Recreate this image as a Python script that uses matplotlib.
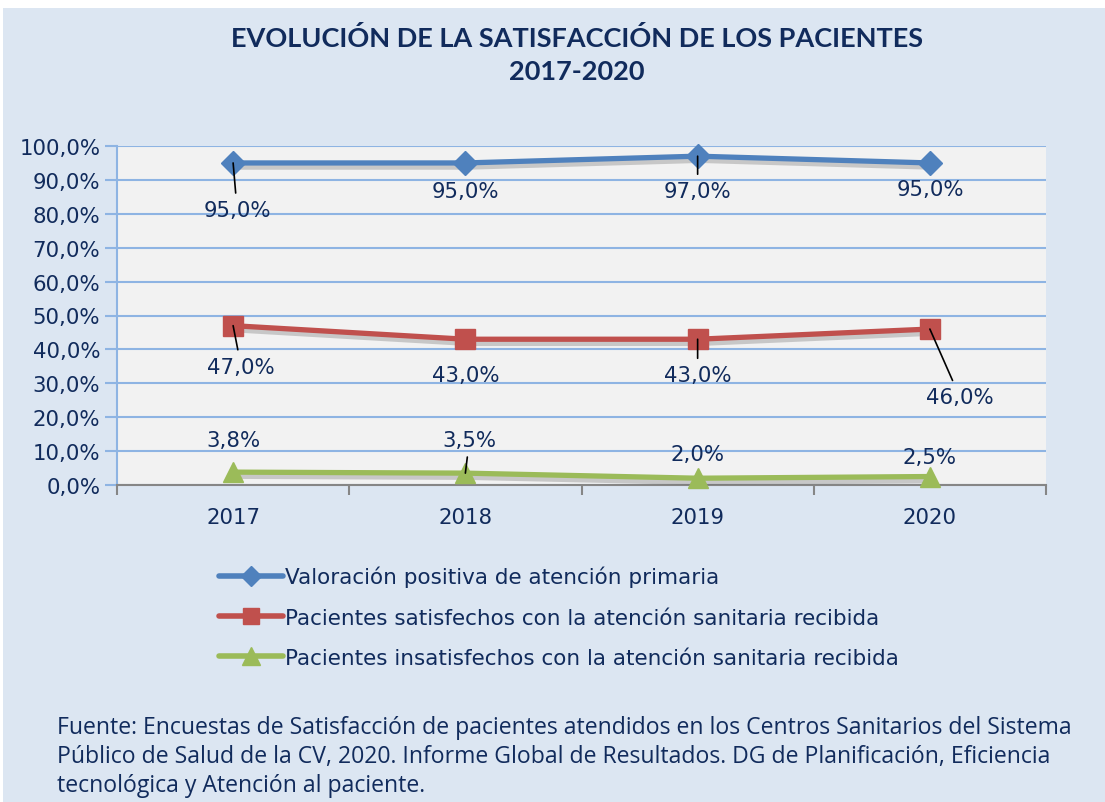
import matplotlib
matplotlib.use("Agg")
import matplotlib.pyplot as plt
import matplotlib.patheffects as pe
from matplotlib.patches import Rectangle
from matplotlib.lines import Line2D

YEARS = ["2017", "2018", "2019", "2020"]
VALORACION = [95.0, 95.0, 97.0, 95.0]
SATISFECHOS = [47.0, 43.0, 43.0, 46.0]
INSATISFECHOS = [3.8, 3.5, 2.0, 2.5]
SERIES_NAMES = [
    "Valoración positiva de atención primaria",
    "Pacientes satisfechos con la atención sanitaria recibida",
    "Pacientes insatisfechos con la atención sanitaria recibida",
]
TITLE = "EVOLUCIÓN DE LA SATISFACCIÓN DE LOS PACIENTES\n2017-2020"
SOURCE = ("Fuente: Encuestas de Satisfacción de pacientes atendidos en los Centros Sanitarios del Sistema\n"
          "Público de Salud de la CV, 2020. Informe Global de Resultados. DG de Planificación, Eficiencia\n"
          "tecnológica y Atención al paciente.")

BG = "#DCE6F2"
PLOT_BG = "#F2F2F2"
GRID = "#8EB4E3"
NAVY = "#112B5C"
COLORS = ["#4F81BD", "#C0504D", "#9BBB59"]
MARKERS = ["D", "s", "^"]
MSIZES = [12, 14, 15]
FS = 15.3

W, H = 1105, 803
fig = plt.figure(figsize=(W / 100, H / 100), dpi=100)
fig.patch.set_facecolor("white")
fig.patches.append(Rectangle((3 / W, 0), 1 - 3 / W, 1 - 9 / H, transform=fig.transFigure,
                             facecolor=BG, edgecolor="none", zorder=-10))

ax = fig.add_axes([117 / W, 1 - 486 / H, (1046 - 117) / W, (486 - 147) / H])
ax.set_facecolor(PLOT_BG)
x = list(range(len(YEARS)))
ax.set_xlim(-0.5, len(YEARS) - 0.5)
ax.set_ylim(0, 100)

ax.set_yticks(range(0, 101, 10))
ax.set_yticklabels([f"{v:.1f}%".replace(".", ",") for v in range(0, 101, 10)])
ax.grid(axis="y", color=GRID, linewidth=1.5)
ax.set_axisbelow(True)
ax.set_xticks(x)
ax.set_xticklabels(YEARS)
ax.set_xticks([i - 0.5 for i in range(len(YEARS) + 1)], minor=True)
ax.tick_params(axis="x", which="major", length=0, pad=16, labelsize=FS, labelcolor=NAVY)
ax.tick_params(axis="x", which="minor", length=7, width=1.5, color="#868686", direction="out")
ax.tick_params(axis="y", length=9, width=1.5, color=GRID, labelsize=FS, labelcolor=NAVY, pad=3)
for s in ["top", "right"]:
    ax.spines[s].set_visible(False)
ax.spines["left"].set_color(GRID)
ax.spines["left"].set_linewidth(1.5)
ax.spines["bottom"].set_color("#868686")
ax.spines["bottom"].set_linewidth(1.5)

shadow = [pe.SimpleLineShadow(offset=(1.5, -3), shadow_color="#666666", alpha=0.3), pe.Normal()]
all_series = [VALORACION, SATISFECHOS, INSATISFECHOS]
for vals, col, mk, ms in zip(all_series, COLORS, MARKERS, MSIZES):
    ax.plot(x, vals, color=col, lw=3.8, solid_capstyle="round", path_effects=shadow,
            zorder=3, clip_on=False)
    ax.plot(x, vals, ls="none", marker=mk, markersize=ms, color=col, markeredgecolor=col,
            zorder=4, clip_on=False)

# label offsets in pixels (dx, dy) and whether a leader line is drawn
label_offsets = [
    [(4, -47, True), (0, -28, False), (0, -35, True), (0, -26, False)],
    [(8, -41, True), (0, -36, False), (0, -36, True), (30, -68, True)],
    [(0, 32, False), (4, 33, True), (0, 24, False), (0, 20, False)],
]
for vals, offs in zip(all_series, label_offsets):
    for xi, v, (dx, dy, lead) in zip(x, vals, offs):
        txt = f"{v:.1f}%".replace(".", ",")
        props = dict(arrowstyle="-", color="black", lw=1.2, shrinkA=3, shrinkB=0) if lead else None
        ax.annotate(txt, (xi, v), xytext=(dx, dy), textcoords="offset pixels",
                    ha="center", va="center", fontsize=FS, color=NAVY,
                    arrowprops=props, zorder=5)

fig.text(0.522, 1 - 26 / H, TITLE, ha="center", va="top", fontsize=19.5, fontweight="bold",
         family="Lato", color=NAVY, linespacing=1.45)

handles = [Line2D([], [], color=c, lw=4, marker=m, markersize=ms * 0.85, solid_capstyle="round")
           for c, m, ms in zip(COLORS, MARKERS, MSIZES)]
leg = fig.legend(handles, SERIES_NAMES, loc="upper left", bbox_to_anchor=(210 / W, 1 - 558 / H),
                 frameon=False, fontsize=15.5, handlelength=3.0, handletextpad=0.1,
                 labelspacing=0.95, borderaxespad=0)
for t in leg.get_texts():
    t.set_color(NAVY)

fig.text(57 / W, 1 - 716 / H, SOURCE, ha="left", va="top", fontsize=16.6, family="Open Sans",
         color=NAVY, linespacing=1.27)

fig.savefig("out.png", dpi=100)
